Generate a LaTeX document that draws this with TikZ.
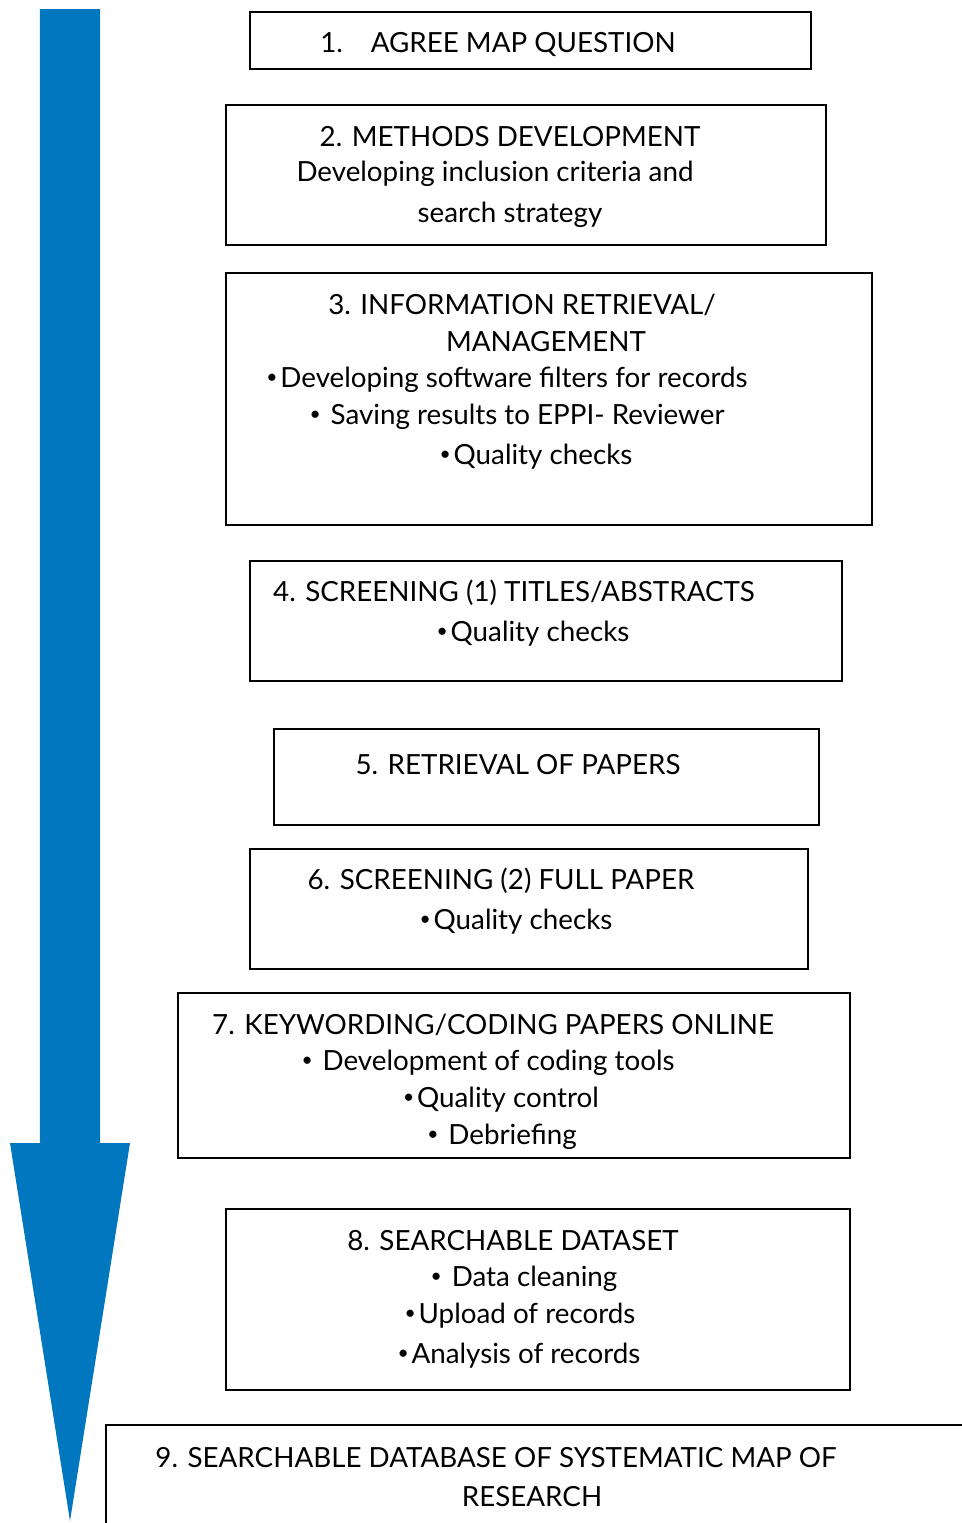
\documentclass[tikz,border=0pt]{standalone}
\usepackage{fontspec}
\setmainfont{Lato}
\definecolor{arrowblue}{RGB}{0,119,190}
\newcommand{\bul}{\raisebox{0.3ex}{\fontsize{5.5}{5.5}\selectfont\textbullet}\kern0.8pt}
\tikzset{stage/.style={draw, line width=0.6pt},
  txt/.style={inner sep=0pt, yshift=-0.03cm, font=\fontsize{7.9}{9}\selectfont}}

\begin{document}
\begin{tikzpicture}
\useasboundingbox (0,0) rectangle (9.62,-15.23);
% big arrow
\fill[arrowblue] (0.40,-0.09) -- (1.00,-0.09) -- (1.00,-11.43) -- (1.30,-11.43)
  -- (0.70,-15.21) -- (0.10,-11.43) -- (0.40,-11.43) -- cycle;
% boxes
\draw[stage] (2.50,-0.12) rectangle (8.11,-0.69);
\draw[stage] (2.26,-1.05) rectangle (8.26,-2.45);
\draw[stage] (2.26,-2.73) rectangle (8.72,-5.25);
\draw[stage] (2.50,-5.61) rectangle (8.42,-6.81);
\draw[stage] (2.74,-7.29) rectangle (8.19,-8.25);
\draw[stage] (2.50,-8.49) rectangle (8.08,-9.69);
\draw[stage] (1.78,-9.93) rectangle (8.50,-11.58);
\draw[stage] (2.26,-12.09) rectangle (8.50,-13.90);
\draw[stage] (1.06,-15.30) -- (1.06,-14.25) -- (9.70,-14.25);
% texts
\node[txt] (t1) at (4.98,-0.41) {1.\quad AGREE MAP QUESTION};
\node[txt] (t2a) at (5.10,-1.34) {2. METHODS DEVELOPMENT};
\node[txt] (t2b) at (4.95,-1.71) {Developing inclusion criteria and};
\node[txt] (t2c) at (5.10,-2.12) {search strategy};
\node[txt] (t3a) at (5.22,-3.02) {3. INFORMATION RETRIEVAL/};
\node[txt] (t3b) at (5.46,-3.39) {MANAGEMENT};
\node[txt] (t3c) at (5.07,-3.77) {\bul Developing software filters for records};
\node[txt] (t3d) at (5.17,-4.14) {\bul{} Saving results to EPPI- Reviewer};
\node[txt] (t3e) at (5.36,-4.54) {\bul Quality checks};
\node[txt] (t4a) at (5.14,-5.90) {4. SCREENING (1) TITLES/ABSTRACTS};
\node[txt] (t4b) at (5.33,-6.31) {\bul Quality checks};
\node[txt] (t5) at (5.18,-7.62) {5. RETRIEVAL OF PAPERS};
\node[txt] (t6a) at (5.01,-8.78) {6. SCREENING (2) FULL PAPER};
\node[txt] (t6b) at (5.16,-9.19) {\bul Quality checks};
\node[txt] (t7a) at (4.93,-10.22) {7. KEYWORDING/CODING PAPERS ONLINE};
\node[txt] (t7b) at (4.88,-10.60) {\bul{} Development of coding tools};
\node[txt] (t7c) at (5.01,-10.97) {\bul Quality control};
\node[txt] (t7d) at (5.02,-11.34) {\bul{} Debriefing};
\node[txt] (t8a) at (5.13,-12.38) {8. SEARCHABLE DATASET};
\node[txt] (t8b) at (5.24,-12.76) {\bul{} Data cleaning};
\node[txt] (t8c) at (5.20,-13.13) {\bul Upload of records};
\node[txt] (t8d) at (5.19,-13.53) {\bul Analysis of records};
\node[txt] (t9a) at (4.96,-14.55) {9. SEARCHABLE DATABASE OF SYSTEMATIC MAP OF};
\node[txt] (t9b) at (5.32,-14.94) {RESEARCH};
\end{tikzpicture}
\end{document}
